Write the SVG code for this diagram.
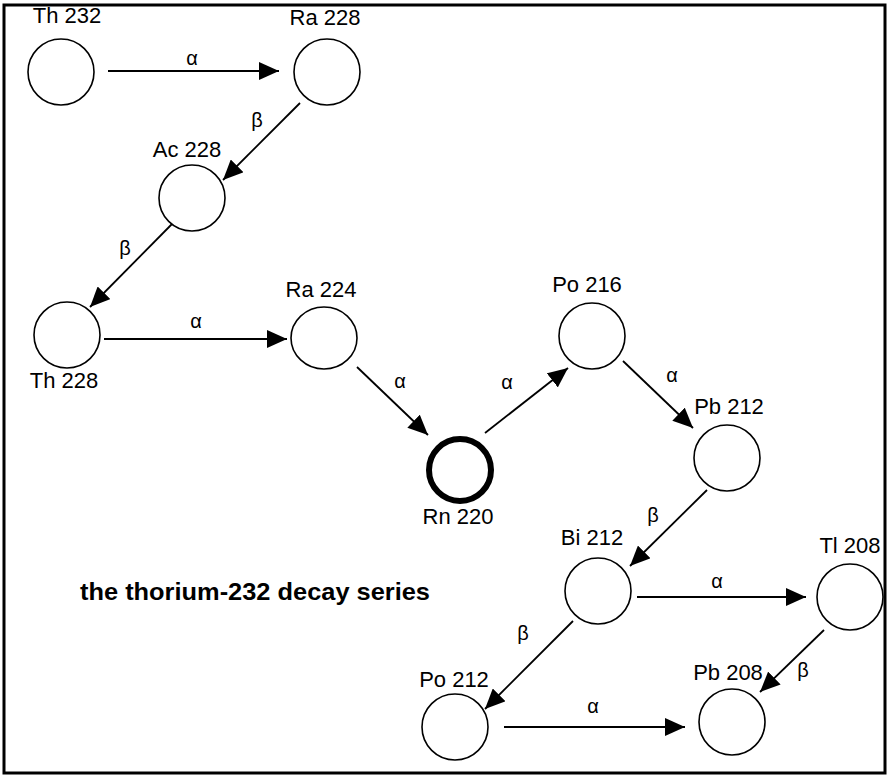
<svg xmlns="http://www.w3.org/2000/svg" width="888" height="777" viewBox="0 0 888 777">
<style>
.n{fill:none;stroke:#000;stroke-width:1.6}
.rn{fill:none;stroke:#000;stroke-width:6}
.lb{font-family:"Liberation Sans",Arial,sans-serif;font-size:22px;fill:#000;text-anchor:middle}
.gk{font-family:"Liberation Sans",Arial,sans-serif;font-size:20px;fill:#000;text-anchor:middle}
.ed{stroke:#000;stroke-width:1.8;fill:none;marker-end:url(#ah)}
.ti{font-family:"Liberation Sans",Arial,sans-serif;font-size:24px;font-weight:bold;fill:#000}
</style>
<defs>
<marker id="ah" markerUnits="userSpaceOnUse" markerWidth="20" markerHeight="18" refX="20" refY="9" orient="auto" viewBox="0 0 20 18">
<path d="M0,0 L20,9 L0,18 z" fill="#000"/>
</marker>
</defs>
<rect x="4" y="5" width="881" height="768" fill="#fff" stroke="#000" stroke-width="3"/>
<g id="connectors">
<line class="ed" x1="108" y1="71" x2="279" y2="71"/>
<line class="ed" x1="300" y1="103" x2="223" y2="180"/>
<line class="ed" x1="172" y1="224" x2="90" y2="307"/>
<line class="ed" x1="104" y1="339" x2="287" y2="339"/>
<line class="ed" x1="357" y1="367" x2="428" y2="435"/>
<line class="ed" x1="485" y1="433" x2="568" y2="368"/>
<line class="ed" x1="623" y1="361" x2="693" y2="428"/>
<line class="ed" x1="707" y1="490" x2="630" y2="566"/>
<line class="ed" x1="637" y1="597" x2="806" y2="597"/>
<line class="ed" x1="573" y1="621" x2="485" y2="709"/>
<line class="ed" x1="504" y1="727" x2="685" y2="727"/>
<line class="ed" x1="824" y1="630" x2="760" y2="692"/>
<text class="gk" x="192" y="65">α</text>
<text class="gk" x="257" y="127">β</text>
<text class="gk" x="125" y="255">β</text>
<text class="gk" x="196" y="328">α</text>
<text class="gk" x="400" y="388">α</text>
<text class="gk" x="507" y="389">α</text>
<text class="gk" x="672" y="382">α</text>
<text class="gk" x="653" y="522">β</text>
<text class="gk" x="717" y="588">α</text>
<text class="gk" x="523" y="640">β</text>
<text class="gk" x="593" y="713">α</text>
<text class="gk" x="803" y="677">β</text>
</g>
<g id="th232"><circle class="n" cx="61" cy="72" r="33"/><text class="lb" x="67" y="23">Th 232</text></g>
<g id="ra228"><circle class="n" cx="327" cy="72" r="33"/><text class="lb" x="325" y="25">Ra 228</text></g>
<g id="ac228"><circle class="n" cx="192" cy="198" r="33"/><text class="lb" x="187" y="157">Ac 228</text></g>
<g id="th228"><circle class="n" cx="67" cy="335" r="33"/><text class="lb" x="64" y="388">Th 228</text></g>
<g id="ra224"><ellipse class="n" cx="324" cy="338" rx="33" ry="31"/><text class="lb" x="321" y="297">Ra 224</text></g>
<g id="rn220"><circle class="rn" cx="460" cy="470" r="31"/><text class="lb" x="458" y="524">Rn 220</text></g>
<g id="po216"><circle class="n" cx="592" cy="336" r="33"/><text class="lb" x="587" y="292">Po 216</text></g>
<g id="pb212"><circle class="n" cx="727" cy="458" r="33"/><text class="lb" x="729" y="414">Pb 212</text></g>
<g id="bi212"><circle class="n" cx="598" cy="591" r="33"/><text class="lb" x="592" y="545">Bi 212</text></g>
<g id="tl208"><circle class="n" cx="850" cy="597" r="33"/><text class="lb" x="850" y="553">Tl 208</text></g>
<g id="po212"><circle class="n" cx="455" cy="727" r="33"/><text class="lb" x="454" y="687">Po 212</text></g>
<g id="pb208"><circle class="n" cx="732" cy="722" r="33"/><text class="lb" x="728" y="680">Pb 208</text></g>
<text class="ti" x="80" y="600" textLength="350" lengthAdjust="spacingAndGlyphs">the thorium-232 decay series</text>
</svg>
